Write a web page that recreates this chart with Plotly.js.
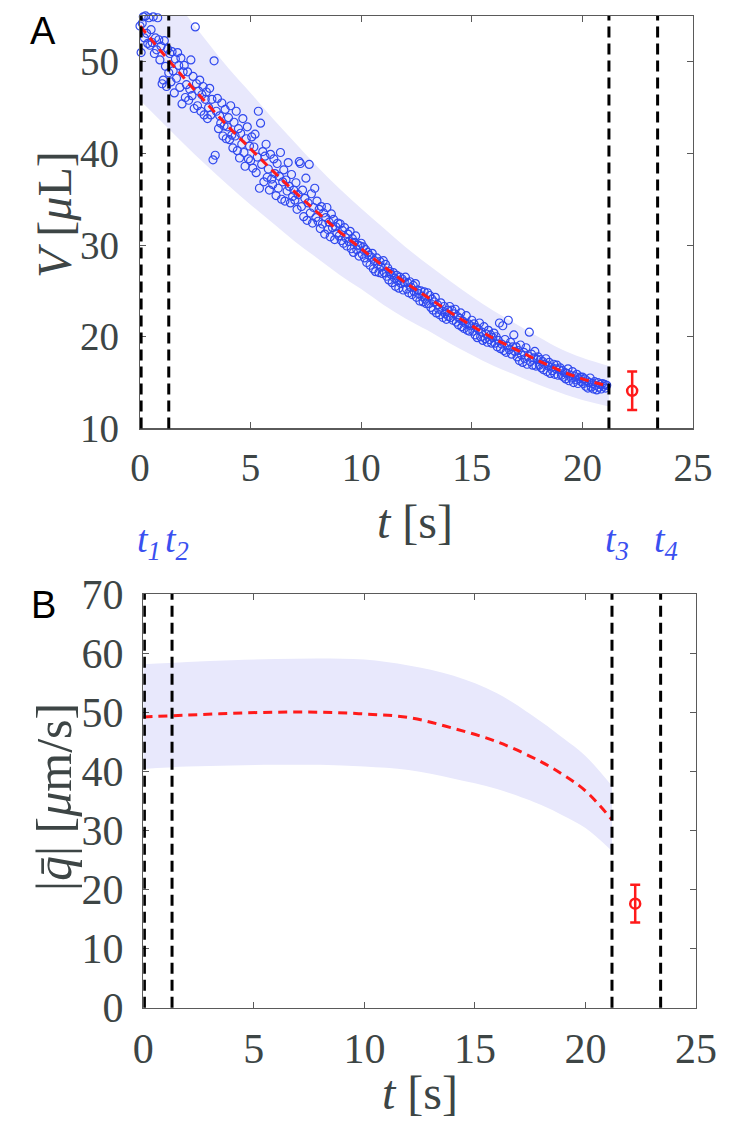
<!DOCTYPE html>
<html><head><meta charset="utf-8">
<script src="https://cdn.plot.ly/plotly-3.0.1.min.js"></script>
<style>html,body{margin:0;padding:0;background:#fff}#plot{width:748px;height:1132px}</style>
</head><body><div id="plot"></div>
<script>
// ---- Panel A: measured volume ----
const tMeasA = [
0,0.05,0.1,0.15,0.2,0.25,0.3,0.35,0.4,0.45,0.5,0.55,0.6,0.65,0.7,0.75,0.8,0.85,0.9,0.95,
1,1.05,1.1,1.15,1.2,1.25,1.3,1.35,1.4,1.45,1.5,1.55,1.6,1.65,1.7,1.75,1.8,1.85,1.9,1.95,
2,2.05,2.1,2.15,2.2,2.25,2.3,2.35,2.4,2.45,2.5,2.55,2.6,2.65,2.7,2.75,2.8,2.85,2.9,2.95,
3,3.05,3.1,3.15,3.2,3.25,3.3,3.35,3.4,3.45,3.5,3.55,3.6,3.65,3.7,3.75,3.8,3.85,3.9,3.95,
4,4.05,4.1,4.15,4.2,4.25,4.3,4.35,4.4,4.45,4.5,4.55,4.6,4.65,4.7,4.75,4.8,4.85,4.9,4.95,
5,5.05,5.1,5.15,5.2,5.25,5.3,5.35,5.4,5.45,5.5,5.55,5.6,5.65,5.7,5.75,5.8,5.85,5.9,5.95,
6,6.05,6.1,6.15,6.2,6.25,6.3,6.35,6.4,6.45,6.5,6.55,6.6,6.65,6.7,6.75,6.8,6.85,6.9,6.95,
7,7.05,7.1,7.15,7.2,7.25,7.3,7.35,7.4,7.45,7.5,7.55,7.6,7.65,7.7,7.75,7.8,7.85,7.9,7.95,
8,8.05,8.1,8.15,8.2,8.25,8.3,8.35,8.4,8.45,8.5,8.55,8.6,8.65,8.7,8.75,8.8,8.85,8.9,8.95,
9,9.05,9.1,9.15,9.2,9.25,9.3,9.35,9.4,9.45,9.5,9.55,9.6,9.65,9.7,9.75,9.8,9.85,9.9,9.95,
10,10.05,10.1,10.15,10.2,10.25,10.3,10.35,10.4,10.45,10.5,10.55,10.6,10.65,10.7,10.75,10.8,10.85,10.9,10.95,
11,11.05,11.1,11.15,11.2,11.25,11.3,11.35,11.4,11.45,11.5,11.55,11.6,11.65,11.7,11.75,11.8,11.85,11.9,11.95,
12,12.05,12.1,12.15,12.2,12.25,12.3,12.35,12.4,12.45,12.5,12.55,12.6,12.65,12.7,12.75,12.8,12.85,12.9,12.95,
13,13.05,13.1,13.15,13.2,13.25,13.3,13.35,13.4,13.45,13.5,13.55,13.6,13.65,13.7,13.75,13.8,13.85,13.9,13.95,
14,14.05,14.1,14.15,14.2,14.25,14.3,14.35,14.4,14.45,14.5,14.55,14.6,14.65,14.7,14.75,14.8,14.85,14.9,14.95,
15,15.05,15.1,15.15,15.2,15.25,15.3,15.35,15.4,15.45,15.5,15.55,15.6,15.65,15.7,15.75,15.8,15.85,15.9,15.95,
16,16.05,16.1,16.15,16.2,16.25,16.3,16.35,16.4,16.45,16.5,16.55,16.6,16.65,16.7,16.75,16.8,16.85,16.9,16.95,
17,17.05,17.1,17.15,17.2,17.25,17.3,17.35,17.4,17.45,17.5,17.55,17.6,17.65,17.7,17.75,17.8,17.85,17.9,17.95,
18,18.05,18.1,18.15,18.2,18.25,18.3,18.35,18.4,18.45,18.5,18.55,18.6,18.65,18.7,18.75,18.8,18.85,18.9,18.95,
19,19.05,19.1,19.15,19.2,19.25,19.3,19.35,19.4,19.45,19.5,19.55,19.6,19.65,19.7,19.75,19.8,19.85,19.9,19.95,
20,20.05,20.1,20.15,20.2,20.25,20.3,20.35,20.4,20.45,20.5,20.55,20.6,20.65,20.7,20.75,20.8,20.85,20.9,20.95,
21,21.05,21.1];
const vMeasA = [
53.9,51.0,54.2,54.9,52.6,55.0,53.1,52.0,54.8,51.8,53.5,52.1,54.9,50.9,52.6,51.3,54.8,52.4,50.2,51.7,
47.6,48.0,52.3,49.5,47.3,51.4,48.8,50.9,47.8,51.1,49.0,46.6,50.3,48.2,51.0,49.6,47.2,50.4,45.4,48.9,
49.6,46.1,47.5,48.9,45.8,47.0,50.2,46.3,48.4,44.9,53.8,47.6,45.2,46.8,48.0,44.6,46.4,47.3,44.2,45.9,
46.7,43.8,45.0,47.1,44.2,45.9,39.3,50.1,39.8,44.6,46.0,42.7,44.1,43.3,45.5,41.9,43.0,44.8,41.6,42.9,
43.9,41.5,45.2,42.0,40.6,43.4,41.9,44.6,40.3,42.7,39.5,42.2,41.0,43.8,40.1,38.6,41.6,42.9,39.4,40.8,
39.2,41.8,38.4,40.7,42.1,37.9,39.6,44.6,36.2,43.3,38.8,40.2,36.9,39.7,41.0,37.4,38.3,36.0,39.9,37.2,
36.6,39.4,37.8,35.4,38.9,36.2,37.5,40.1,35.0,36.9,38.2,34.8,37.1,35.9,39.0,36.4,34.6,37.7,35.3,36.0,
34.9,36.8,33.9,35.5,39.1,38.9,34.2,36.0,33.1,35.1,37.3,32.7,34.6,38.8,33.5,35.6,32.4,34.1,36.2,33.0,
34.8,32.6,33.9,31.8,34.2,32.3,33.5,31.2,33.0,34.1,31.7,32.5,30.9,33.4,31.9,32.8,30.6,32.0,31.3,32.4,
31.0,32.3,30.5,31.6,30.2,31.9,30.8,29.9,31.2,30.4,31.5,29.6,30.7,29.2,30.3,31.0,29.5,30.0,28.8,29.9,
30.2,29.0,29.8,28.6,29.5,28.1,29.2,28.9,27.8,28.7,29.1,27.4,28.3,27.1,28.6,27.9,27.0,28.2,27.6,26.9,
28.3,27.0,27.9,26.6,27.5,26.2,27.1,26.8,25.9,27.0,26.4,25.5,26.7,26.1,25.3,26.5,25.8,26.3,25.1,26.0,
26.5,25.2,25.9,24.8,26.0,25.4,24.6,25.6,24.9,25.8,24.3,25.1,24.7,23.9,25.0,24.4,23.8,24.9,24.1,23.6,
24.8,23.6,24.5,23.2,24.1,22.9,23.8,24.3,22.6,23.5,23.0,22.4,23.7,22.8,22.1,23.3,22.5,21.9,22.9,22.2,
23.3,22.1,22.9,21.8,22.5,23.0,21.6,22.2,21.3,22.0,22.6,21.1,21.7,20.9,21.5,22.3,20.7,21.4,20.6,21.2,
21.8,20.6,21.4,20.2,21.0,19.9,20.8,21.5,20.0,20.5,19.6,21.1,19.8,20.3,19.4,20.7,19.7,20.2,19.3,19.9,
20.4,19.3,20.0,18.9,19.6,21.5,18.7,19.2,21.2,18.5,19.7,18.3,19.0,21.8,18.6,19.4,18.1,18.9,20.2,18.4,
18.9,17.8,18.5,17.4,19.1,18.0,17.2,18.3,17.6,18.8,17.0,17.9,20.5,17.3,18.1,16.9,17.7,18.4,16.8,17.5,
17.8,16.9,17.5,16.6,17.3,16.4,17.0,17.6,16.2,16.8,17.2,16.0,16.7,16.3,17.0,15.9,16.5,16.9,15.8,16.4,
16.6,15.8,16.3,15.6,16.1,15.4,16.0,16.5,15.2,15.8,15.5,16.2,15.0,15.7,15.3,15.9,14.9,15.4,15.6,15.1,
15.6,14.9,15.4,14.6,15.2,14.4,15.0,15.5,14.5,14.9,14.3,15.1,14.7,14.2,15.0,14.5,14.8,14.3,14.9,14.6,
14.8,14.4,14.7];

// Panel A fit and uncertainty band
const tFitA   = [0, 1, 2, 3, 4, 5, 6, 7, 8, 9, 10, 11, 12, 13, 14, 15, 16, 17, 18, 19, 20, 21.2];
const vFitA   = [53.9, 51.0, 48.2, 45.5, 42.9, 40.5, 38.1, 35.8, 33.6, 31.5, 29.6, 27.7, 25.9, 24.3, 22.7, 21.2, 19.8, 18.6, 17.4, 16.3, 15.4, 14.6];
const vUpperA = [62.0, 58.7, 55.4, 52.3, 49.3, 46.6, 43.8, 41.2, 38.6, 36.2, 34.0, 31.9, 29.8, 27.9, 26.1, 24.4, 22.8, 21.4, 20.0, 18.7, 17.7, 16.8];
const vLowerA = [45.8, 43.4, 41.0, 38.7, 36.5, 34.4, 32.4, 30.4, 28.6, 26.8, 25.2, 23.5, 22.0, 20.7, 19.3, 18.0, 16.8, 15.8, 14.8, 13.9, 13.1, 12.4];

// Panel B: mean flux and band
const tFitB   = [0, 2, 4, 6, 8, 10, 12, 14, 16, 18, 19, 20, 21.2];
const qFitB   = [49.2, 49.5, 49.8, 50.0, 50.0, 49.7, 49.1, 47.3, 45.0, 41.6, 39.4, 36.7, 31.8];
const qUpperB = [58.1, 58.5, 58.8, 59.0, 59.1, 58.9, 57.9, 56.2, 53.2, 48.4, 45.6, 42.6, 37.5];
const qLowerB = [40.4, 40.8, 41.0, 41.1, 41.1, 40.8, 40.2, 38.8, 37.0, 34.3, 32.5, 30.4, 26.5];

// error-bar points
const tErr = [22.25];
const vErrA = [14.1], vErrBarA = [2.1];
const qErrB = [17.6], qErrBarB = [3.2];

// time markers
const tMarks = [0.05, 1.3, 21.2, 23.4];
const tMarkLabels = ['<i>t</i><sub><i>1</i></sub>', '<i>t</i><sub><i>2</i></sub>', '<i>t</i><sub><i>3</i></sub>', '<i>t</i><sub><i>4</i></sub>'];

const xTicks = [0, 5, 10, 15, 20, 25];
const yTicksA = [10, 20, 30, 40, 50];
const yTicksB = [0, 10, 20, 30, 40, 50, 60, 70];

const W = 748, H = 1132;
const px = v => v / W, py = v => 1 - v / H;

const BAND = 'rgba(232,232,252,1)';
const BLUE = '#3049ee';
const TXT = '#3d4545';
const AX = '#5a5a5a';

const traces = [
  {x: tFitA, y: vLowerA, xaxis:'x', yaxis:'y', mode:'lines', line:{width:0, shape:'spline', color:BAND}, hoverinfo:'skip', showlegend:false},
  {x: tFitA, y: vUpperA, xaxis:'x', yaxis:'y', mode:'lines', fill:'tonexty', fillcolor:BAND, line:{width:0, shape:'spline', color:BAND}, hoverinfo:'skip', showlegend:false},
  {x: tMeasA, y: vMeasA, xaxis:'x', yaxis:'y', mode:'markers', cliponaxis:false,
   marker:{symbol:'circle-open', size:8, color:BLUE, line:{width:1.2, color:BLUE}}, showlegend:false},
  {x: tFitA, y: vFitA, xaxis:'x', yaxis:'y', mode:'lines', line:{color:'#ff1a1a', width:3, dash:'9px,6px', shape:'spline'}, showlegend:false},
  {x: tErr, y: vErrA, xaxis:'x', yaxis:'y', mode:'markers', cliponaxis:false,
   marker:{symbol:'circle-open', size:10, color:'#ff1a1a', line:{width:2.5, color:'#ff1a1a'}},
   error_y:{type:'data', array:vErrBarA, visible:true, color:'#ff1a1a', thickness:2.5, width:5}, showlegend:false},

  {x: tFitB, y: qLowerB, xaxis:'x2', yaxis:'y2', mode:'lines', line:{width:0, shape:'spline', color:BAND}, hoverinfo:'skip', showlegend:false},
  {x: tFitB, y: qUpperB, xaxis:'x2', yaxis:'y2', mode:'lines', fill:'tonexty', fillcolor:BAND, line:{width:0, shape:'spline', color:BAND}, hoverinfo:'skip', showlegend:false},
  {x: tFitB, y: qFitB, xaxis:'x2', yaxis:'y2', mode:'lines', line:{color:'#ff1a1a', width:3, dash:'9px,6px', shape:'spline'}, showlegend:false},
  {x: tErr, y: qErrB, xaxis:'x2', yaxis:'y2', mode:'markers', cliponaxis:false,
   marker:{symbol:'circle-open', size:10, color:'#ff1a1a', line:{width:2.5, color:'#ff1a1a'}},
   error_y:{type:'data', array:qErrBarB, visible:true, color:'#ff1a1a', thickness:2.5, width:5}, showlegend:false}
];

const shapes = [];
['y', 'y2'].forEach((ya, i) => {
  const xa = i === 0 ? 'x' : 'x2';
  tMarks.forEach(tm => shapes.push({type:'line', xref:xa, yref:ya + ' domain', x0:tm, x1:tm, y0:0, y1:1,
    line:{color:'#000', width:3, dash:'11px,6px'}, layer:'above'}));
});

function axisCommon(extra) {
  return Object.assign({
    showline:true, linecolor:AX, linewidth:1.3, mirror:'ticks',
    ticks:'inside', ticklen:6, tickwidth:1, tickcolor:AX,
    showgrid:false, zeroline:false, fixedrange:true,
    tickfont:{family:'Liberation Serif', size:39, color:TXT}
  }, extra);
}

function ann(text, xp, yp, size, family, color, angle) {
  return {text:text, xref:'paper', yref:'paper', x:px(xp), y:py(yp), xanchor:'center', yanchor:'middle',
    showarrow:false, textangle:angle || 0, font:{family:family, size:size, color:color}};
}

const annotations = [
  ann('A', 43, 31, 38, 'Liberation Sans', '#000'),
  ann('B', 43, 605, 38, 'Liberation Sans', '#000'),
  ann('<i>V</i> [<i>μ</i>L]', 54, 215, 48, 'Liberation Serif', TXT, -90),
  ann('<i>t</i> [s]', 415, 522, 48, 'Liberation Serif', TXT),
  ann('|<i>q̄</i>| [<i>μ</i>m/s]', 54, 797, 50, 'Liberation Serif', TXT, -90),
  ann('<i>t</i> [s]', 420, 1092, 48, 'Liberation Serif', TXT)
];
tMarks.forEach((tm, i) => annotations.push({text:tMarkLabels[i], xref:'x', yref:'paper', x:tm, xshift:8,
  y:py(542), xanchor:'center', yanchor:'middle',
  showarrow:false, font:{family:'Liberation Serif', size:38, color:'#3a50f0'}}));

const layout = {
  width:W, height:H, margin:{l:0, r:0, t:0, b:0},
  paper_bgcolor:'#fff', plot_bgcolor:'#fff', showlegend:false,
  font:{family:'Liberation Serif', color:TXT},
  xaxis: axisCommon({domain:[px(140), px(693)], range:[0, 25], tickvals:xTicks, anchor:'y', ticklabelstandoff:4}),
  yaxis: axisCommon({domain:[py(428.4), py(15.9)], range:[10, 55], tickvals:yTicksA, anchor:'x', ticklabelstandoff:12}),
  xaxis2: axisCommon({domain:[px(143.3), px(696)], range:[0, 25], tickvals:xTicks, anchor:'y2', ticklabelstandoff:4, tickfont:{family:'Liberation Serif', size:42, color:TXT}}),
  yaxis2: axisCommon({domain:[py(1007.7), py(594)], range:[0, 70], tickvals:yTicksB, anchor:'x2', ticklabelstandoff:10, tickfont:{family:'Liberation Serif', size:42, color:TXT}}),
  shapes: shapes,
  annotations: annotations
};

Plotly.newPlot('plot', traces, layout, {staticPlot:true, displayModeBar:false});
</script>
</body></html>
